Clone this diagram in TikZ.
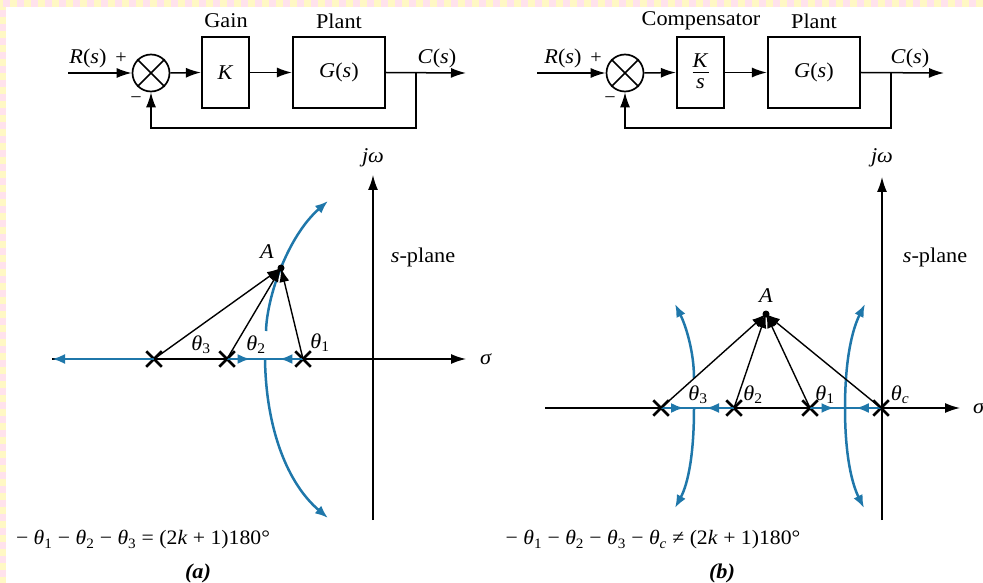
\documentclass[tikz,border=0pt]{standalone}
\usepackage{fontspec}
\setmainfont{Liberation Serif}[FakeStretch=1.06]
\usetikzlibrary{arrows.meta,shapes.misc,calc}
\definecolor{locus}{RGB}{31,119,170}
\definecolor{bandY}{RGB}{255,248,196}
\definecolor{bandP}{RGB}{255,226,236}
\newcommand\thg[1]{\textit{θ}\textsubscript{#1}}
\tikzset{
  txt/.style={font=\fontsize{21}{23}\selectfont, inner sep=0pt},
  eqtxt/.style={font=\fontsize{20.5}{22}\selectfont, inner sep=0pt},
  blk/.style={draw, line width=2.2pt, inner sep=0pt, font=\fontsize{21}{23}\selectfont},
  sumj/.style={draw, circle, line width=1.7pt, minimum size=37pt, inner sep=0pt},
  sig/.style={line width=1.5pt, -{Latex[length=15pt,width=10pt]}},
  wire/.style={line width=1.5pt},
  vec/.style={line width=1.4pt, -{Latex[length=14pt,width=10pt]}},
  axisline/.style={line width=1.4pt, -{Latex[length=15pt,width=10pt]}},
  loc/.style={draw=locus, line width=2.5pt},
  locarr/.style={draw=locus, line width=2.5pt, -{Latex[length=13pt,width=10pt]}},
  pole/.style={draw, cross out, line width=2.5pt, minimum size=13pt, inner sep=0pt},
}
\begin{document}
\begin{tikzpicture}[x=1pt,y=-1pt]
\useasboundingbox (0,0) rectangle (983,583);
% page border band
\fill[bandY] (0,0) rectangle (983,7);
\fill[bandY] (0,0) rectangle (6,583);
\foreach \i in {0,...,70} \fill[bandP] (\i*14+3,0) rectangle ++(7,7);
\foreach \i in {0,...,41} \fill[bandP] (0,\i*14+10) rectangle ++(6,7);

% ================= (a) block diagram =================
\node[sumj] (s1) at (151,73) {};
\draw[wire] (s1.45) -- (s1.225) (s1.135) -- (s1.-45);
\node[blk, minimum width=47pt, minimum height=71pt] (K1) at (225.5,72.5) {\textit{K}};
\node[blk, minimum width=92pt, minimum height=71pt] (G1) at (339,72.5) {\textit{G}(\textit{s})};
\coordinate (rin1) at (68,73);
\coordinate (cout1) at (466,73);
\coordinate (br1) at (416,73);
\draw[sig] (rin1) -- (s1.west);
\draw[sig] (s1.east) -- (K1.west);
\draw[sig] (K1.east) -- (G1.west);
\draw[sig] (G1.east) -- (cout1);
\draw[sig] (br1) -- ++(0,55) -| (s1.south);
\node[txt] (gain) at (226,21) {Gain};
\node[txt] (plant1) at (339,21) {Plant};
\node[txt] (R1) at (88,58) {\textit{R}(\textit{s})};
\node[txt, font=\fontsize{19}{20}\selectfont] (pl1) at (121,58) {+};
\node[txt, font=\fontsize{19}{20}\selectfont] (mi1) at (136,100) {−};
\node[txt] (C1) at (437,58) {\textit{C}(\textit{s})};

% ================= (b) block diagram =================
\node[sumj] (s2) at (625,73) {};
\draw[wire] (s2.45) -- (s2.225) (s2.135) -- (s2.-45);
\node[blk, minimum width=47pt, minimum height=71pt] (K2) at (700.5,72.5) {};
\node[txt] (K2n) at (700.5,61) {\textit{K}};
\node[txt] (K2d) at (700.5,84) {\textit{s}};
\draw[line width=1.2pt] ($(K2.center)+(-8,0)$) -- ($(K2.center)+(8,0)$);
\node[blk, minimum width=92pt, minimum height=71pt] (G2) at (814,72.5) {\textit{G}(\textit{s})};
\coordinate (rin2) at (537,73);
\coordinate (cout2) at (944,73);
\coordinate (br2) at (891,73);
\draw[sig] (rin2) -- (s2.west);
\draw[sig] (s2.east) -- (K2.west);
\draw[sig] (K2.east) -- (G2.west);
\draw[sig] (G2.east) -- (cout2);
\draw[sig] (br2) -- ++(0,55) -| (s2.south);
\node[txt] (comp) at (701,21) {Compensator};
\node[txt] (plant2) at (814,21) {Plant};
\node[txt] (R2) at (563,58) {\textit{R}(\textit{s})};
\node[txt, font=\fontsize{19}{20}\selectfont] (pl2) at (596,58) {+};
\node[txt, font=\fontsize{19}{20}\selectfont] (mi2) at (610,100) {−};
\node[txt] (C2) at (910,58) {\textit{C}(\textit{s})};

% ================= (a) root locus =================
\coordinate (jbot1) at (373,520);
\coordinate (jtop1) at (373,175);
\coordinate (sl1) at (52,359);
\coordinate (sr1) at (466,359);
\draw[axisline] (jbot1) -- (jtop1);
\draw[axisline] (sl1) -- (sr1);
\node[txt] (jw1) at (373,158) {\textit{jω}};
\node[txt, anchor=west] (sig1) at (480,359) {\textit{σ}};
\node[txt] (sp1) at (423,257) {\textit{s}-plane};
\coordinate (A1) at (281,268);
\coordinate (ba1) at (265,359);
\node[pole] (p31) at (154,359) {};
\node[pole] (p21) at (227,359) {};
\node[pole] (p11) at (303,359) {};
% locus
\draw[locarr] (p31.center) -- (sl1);
\draw[loc] (p21.center) -- (p11.center);
\draw[locarr] (p21.center) -- ($(p21.center)!0.62!(ba1)$);
\draw[locarr] (p11.center) -- ($(p11.center)!0.62!(ba1)$);
\coordinate (up1s) at (266,331);
\coordinate (up1e) at (328,201);
\coordinate (lo1e) at (328,518);
\draw[locarr] (up1s) .. controls (267,296) and (288,236) .. (up1e);
\draw[locarr] (ba1) .. controls (266,430) and (288,484) .. (lo1e);
% vectors
\draw[vec] (p31.center) -- (A1);
\draw[vec] (p21.center) -- (A1);
\draw[vec] (p11.center) -- (A1);
\fill (A1) circle (3.5);
\node[txt] (lA1) at (267,252) {\textit{A}};
\node[txt] (t31) at (201,345) {\thg{3}};
\node[txt] (t21) at (256,345) {\thg{2}};
\node[txt] (t11) at (320,343) {\thg{1}};
\node[eqtxt] (eq1) at (143,540) {− \thg{1} − \thg{2} − \thg{3} = (2\textit{k} + 1)180°};
\node[txt] (cap1) at (198,573) {\textbf{\textit{(a)}}};

% ================= (b) root locus =================
\coordinate (jbot2) at (882,520);
\coordinate (jtop2) at (882,177);
\coordinate (sl2) at (545,408);
\coordinate (sr2) at (960,408);
\draw[axisline] (jbot2) -- (jtop2);
\draw[axisline] (sl2) -- (sr2);
\node[txt] (jw2) at (882,158) {\textit{jω}};
\node[txt, anchor=west] (sig2) at (973,408) {\textit{σ}};
\node[txt] (sp2) at (935,257) {\textit{s}-plane};
\coordinate (A2) at (766,314);
\coordinate (bl2) at (694,408);
\coordinate (br22) at (845,408);
\node[pole] (p32) at (661,408) {};
\node[pole] (p22) at (734,408) {};
\node[pole] (p12) at (810,408) {};
\node[pole] (pc2) at (881,408) {};
% locus
\draw[loc] (p32.center) -- (p22.center);
\draw[loc] (p12.center) -- (pc2.center);
\draw[locarr] (p32.center) -- ($(p32.center)!0.7!(bl2)$);
\draw[locarr] (p22.center) -- ($(p22.center)!0.7!(bl2)$);
\draw[locarr] (p12.center) -- ($(p12.center)!0.7!(br22)$);
\draw[locarr] (pc2.center) -- ($(pc2.center)!0.7!(br22)$);
\coordinate (lu2s) at (694,378);
\coordinate (lu2e) at (675,304);
\coordinate (ll2e) at (675,508);
\coordinate (ru2e) at (865,304);
\coordinate (rl2e) at (864,508);
\draw[locarr] (lu2s) .. controls (694,352) and (686,326) .. (lu2e);
\draw[locarr] (bl2) .. controls (694,455) and (688,484) .. (ll2e);
\draw[locarr] (br22) .. controls (845,360) and (852,330) .. (ru2e);
\draw[locarr] (br22) .. controls (845,456) and (852,484) .. (rl2e);
% vectors
\draw[vec] (p32.center) -- (A2);
\draw[vec] (p22.center) -- (A2);
\draw[vec] (p12.center) -- (A2);
\draw[vec] (pc2.center) -- (A2);
\fill (A2) circle (3.5);
\node[txt] (lA2) at (766,296) {\textit{A}};
\node[txt] (t32) at (698,395) {\thg{3}};
\node[txt] (t22) at (753,395) {\thg{2}};
\node[txt] (t12) at (825,395) {\thg{1}};
\node[txt] (tc2) at (900,395) {\textit{θ}\textsubscript{\textit{c}}};
\node[eqtxt] (eq2) at (653,540) {− \thg{1} − \thg{2} − \thg{3} − \textit{θ}\textsubscript{\textit{c}} ≠ (2\textit{k} + 1)180°};
\node[txt] (cap2) at (722,573) {\textbf{\textit{(b)}}};
\end{tikzpicture}
\end{document}
